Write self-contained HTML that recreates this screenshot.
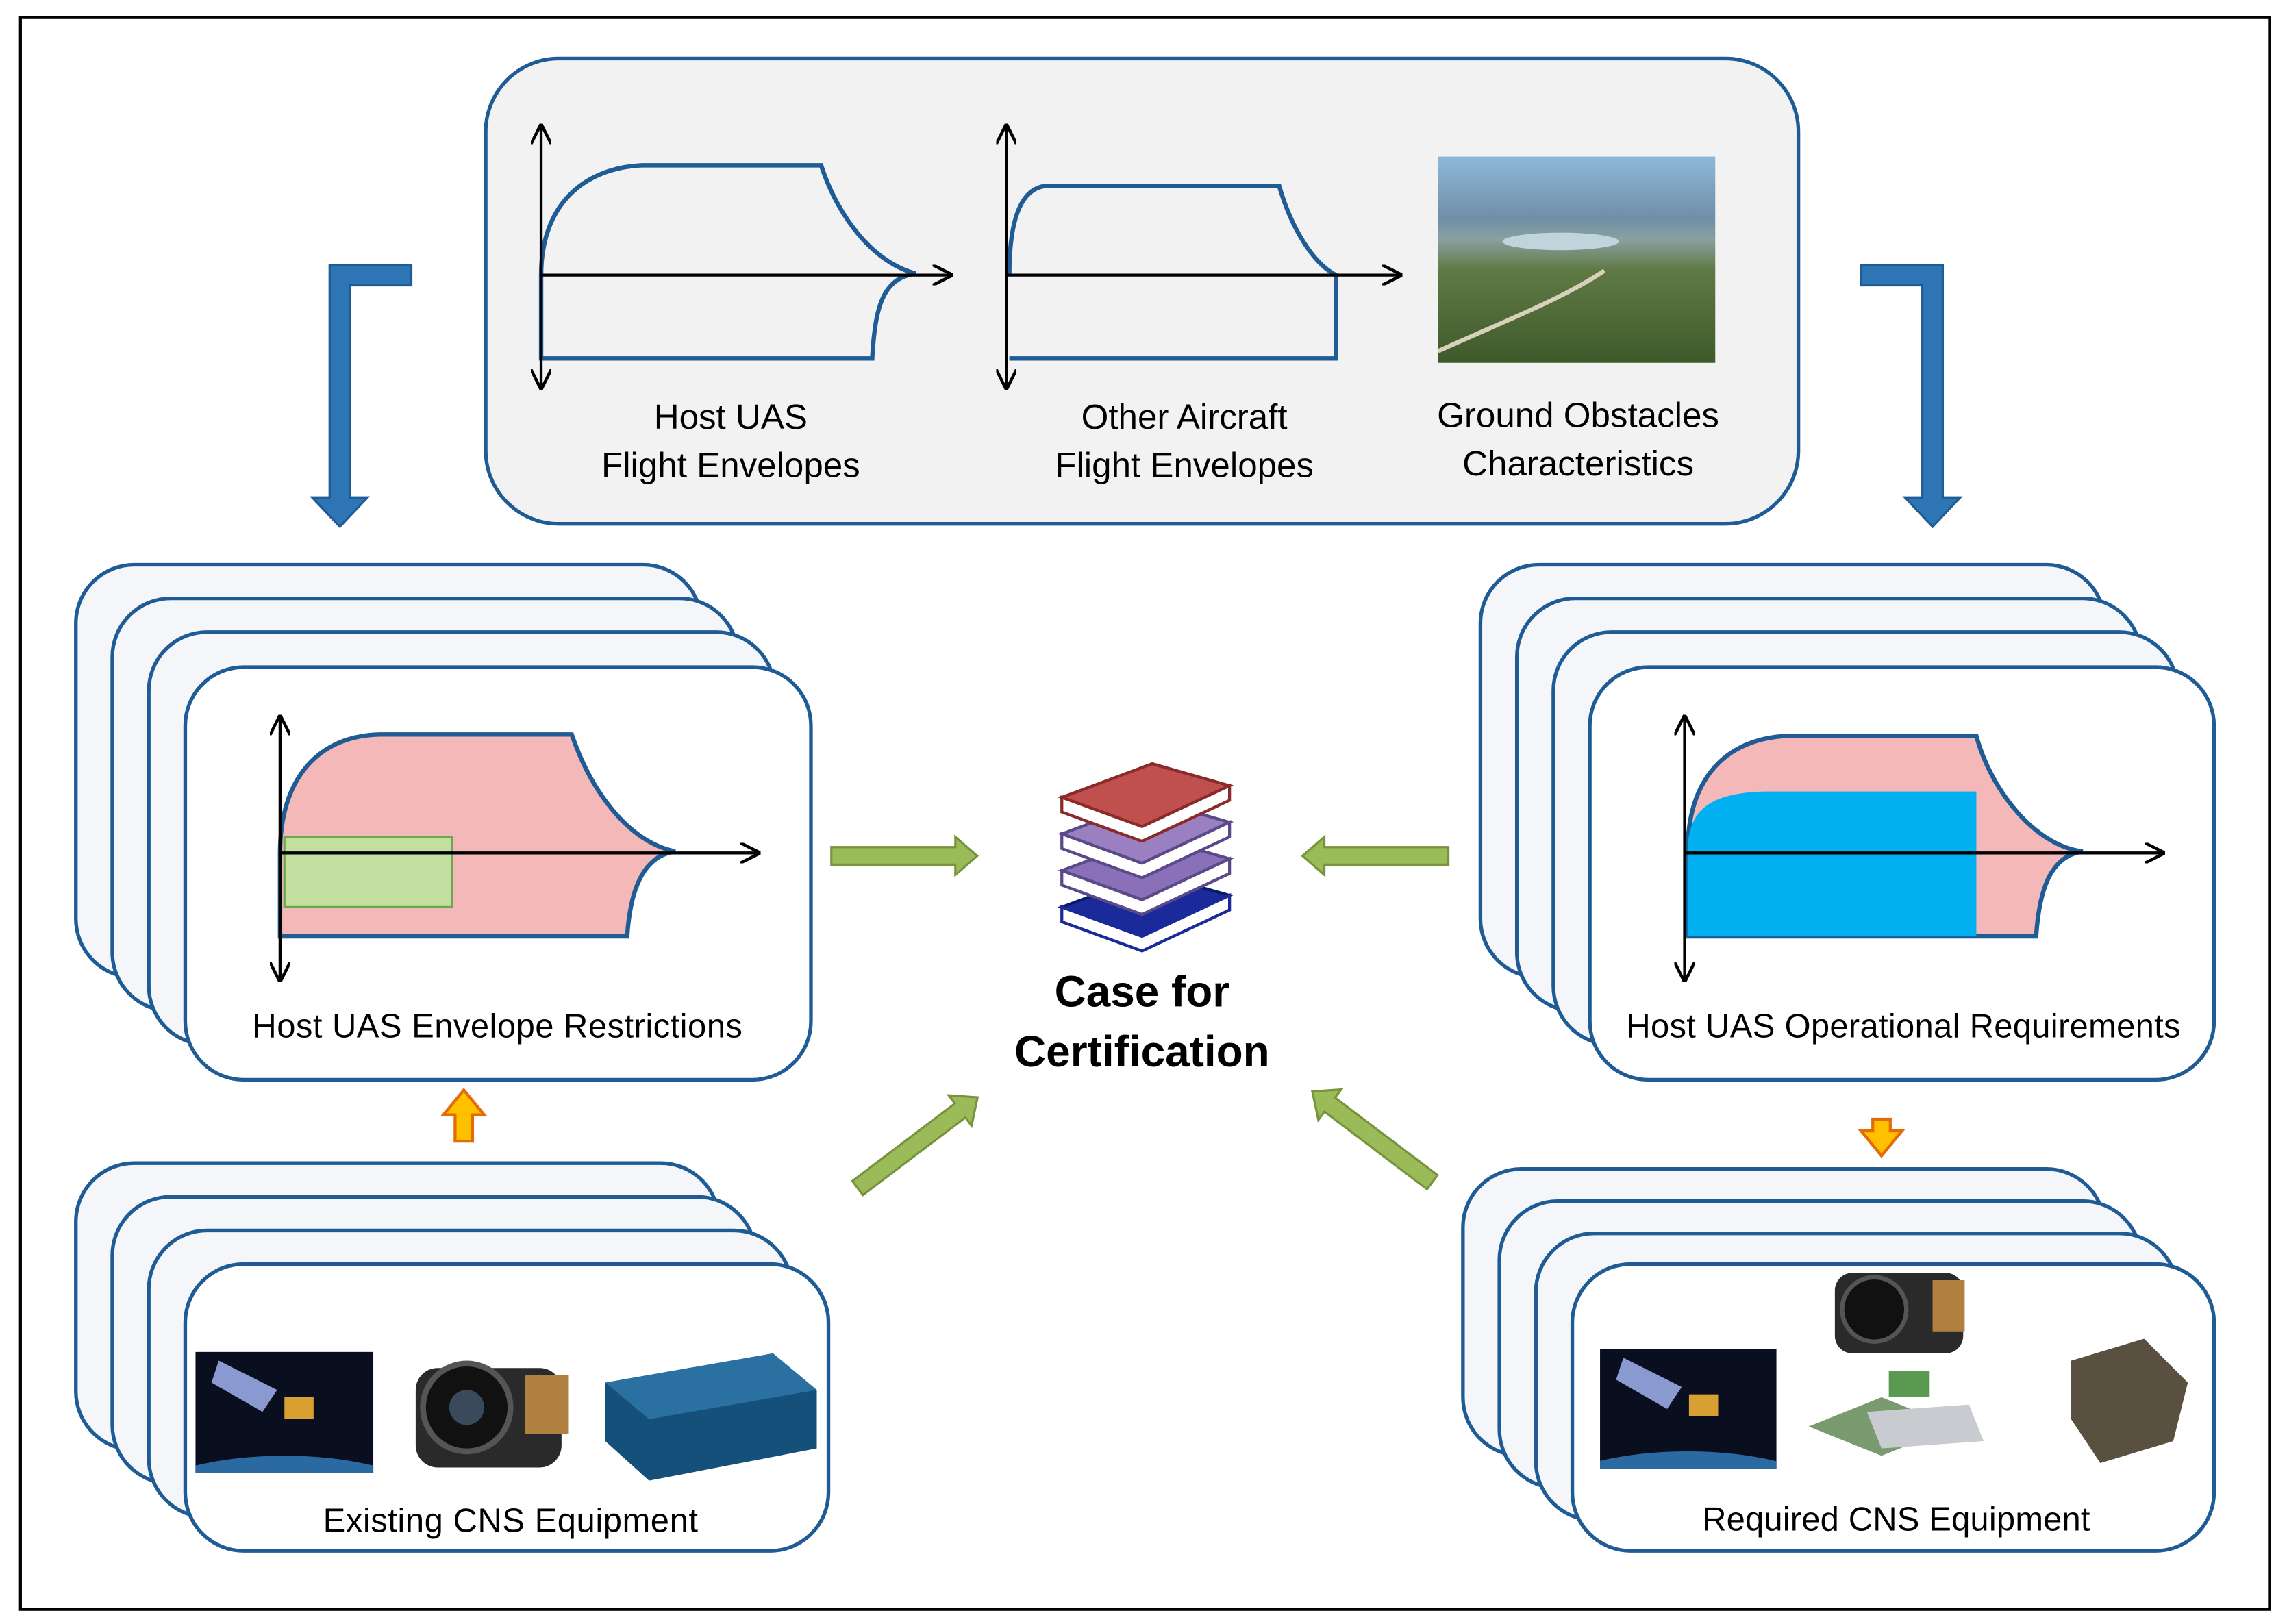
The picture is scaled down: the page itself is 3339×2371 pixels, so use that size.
<!DOCTYPE html>
<html><head><meta charset="utf-8"><style>
html,body{margin:0;padding:0;background:#fff}
svg{display:block}
text{font-family:"Liberation Sans",sans-serif;fill:#000}
</style></head><body>
<svg width="3339" height="2371" viewBox="0 0 1568 1110" preserveAspectRatio="none" xmlns="http://www.w3.org/2000/svg">
<defs>
<marker id="ah" viewBox="0 0 10 10" refX="9" refY="5" markerWidth="7" markerHeight="7" orient="auto-start-reverse"><path d="M0,0 L10,5 L0,10" fill="none" stroke="#000" stroke-width="1.5"/></marker>
<linearGradient id="sky" x1="0" y1="0" x2="0" y2="1"><stop offset="0" stop-color="#8fb8d8"/><stop offset="0.3" stop-color="#6f8fa8"/><stop offset="0.4" stop-color="#8aa0a0"/><stop offset="0.55" stop-color="#5f7a45"/><stop offset="1" stop-color="#3f5a2a"/></linearGradient>
<clipPath id="c1"><rect x="134" y="924" width="122" height="83"/></clipPath>
<clipPath id="c2"><rect x="1097" y="922" width="121" height="82"/></clipPath>
</defs>
<rect x="0" y="0" width="1568" height="1110" fill="#fff"/>
<rect x="14" y="12" width="1542" height="1088" fill="none" stroke="#000" stroke-width="2"/>

<rect x="333" y="40" width="900" height="318" rx="50" fill="#f2f2f2" stroke="#1f5b95" stroke-width="2.5"/>
<path d="M371,188 C371,140 400,115 440,113 L563,113 C575,150 600,180 628,187 C605,190 600,210 598,245 L371,245 Z" fill="none" stroke="#1f5b95" stroke-width="3"/>
<line x1="371" y1="86" x2="371" y2="265" stroke="#000" stroke-width="2" marker-start="url(#ah)" marker-end="url(#ah)"/>
<line x1="371" y1="188" x2="652" y2="188" stroke="#000" stroke-width="2" marker-end="url(#ah)"/>
<path d="M692,188 C692,150 700,128 718,127 L877,127 C885,155 900,180 916,188 L916,245 L692,245" fill="none" stroke="#1f5b95" stroke-width="3"/>
<line x1="690" y1="86" x2="690" y2="265" stroke="#000" stroke-width="2" marker-start="url(#ah)" marker-end="url(#ah)"/>
<line x1="690" y1="188" x2="960" y2="188" stroke="#000" stroke-width="2" marker-end="url(#ah)"/>
<rect x="986" y="107" width="190" height="141" fill="url(#sky)"/>
<ellipse cx="1070" cy="165" rx="40" ry="6" fill="#c0d4dc"/>
<path d="M986,240 C1030,220 1070,205 1100,185" stroke="#d8d0b8" stroke-width="3" fill="none"/>
<g font-size="24" text-anchor="middle">
<text x="501" y="293">Host UAS</text>
<text x="501" y="326">Flight Envelopes</text>
<text x="812" y="293">Other Aircraft</text>
<text x="812" y="326">Flight Envelopes</text>
<text x="1082" y="292">Ground Obstacles</text>
<text x="1082" y="325">Characteristics</text>
</g>

<path d="M282,181 L226,181 L226,340 L214,340 L233,360 L252,340 L240,340 L240,195 L282,195 Z" fill="#2e75b6" stroke="#1f5b95" stroke-width="1.5"/>
<path d="M1276,181 L1332,181 L1332,340 L1344,340 L1325,360 L1306,340 L1318,340 L1318,195 L1276,195 Z" fill="#2e75b6" stroke="#1f5b95" stroke-width="1.5"/>

<g fill="#f4f6f9" stroke="#1f5b95" stroke-width="2.5">
<rect x="52" y="386" width="429" height="282" rx="40"/>
<rect x="77" y="409" width="429" height="282" rx="40"/>
<rect x="102" y="432" width="429" height="282" rx="40"/>
<rect x="127" y="456" width="429" height="282" rx="40" fill="#fff"/>
</g>
<path d="M192,583 C192,530 220,503 260,502 L392,502 C405,540 430,575 463,582 C440,585 432,610 430,640 L192,640 Z" fill="#f4b8b8" stroke="#1f5b95" stroke-width="3"/>
<rect x="195" y="572" width="115" height="48" fill="#c3df9f" stroke="#6aa84f" stroke-width="1.5"/>
<line x1="192" y1="490" x2="192" y2="670" stroke="#000" stroke-width="2" marker-start="url(#ah)" marker-end="url(#ah)"/>
<line x1="192" y1="583" x2="520" y2="583" stroke="#000" stroke-width="2" marker-end="url(#ah)"/>
<text x="341" y="709" font-size="23" text-anchor="middle" textLength="336">Host UAS Envelope Restrictions</text>

<g fill="#f4f6f9" stroke="#1f5b95" stroke-width="2.5">
<rect x="1015" y="386" width="428" height="282" rx="40"/>
<rect x="1040" y="409" width="428" height="282" rx="40"/>
<rect x="1065" y="432" width="428" height="282" rx="40"/>
<rect x="1090" y="456" width="428" height="282" rx="40" fill="#fff"/>
</g>
<path d="M1157,583 C1157,530 1185,505 1225,503 L1355,503 C1365,540 1395,578 1428,582 C1405,585 1398,610 1396,640 L1157,640 Z" fill="#f4b8b8" stroke="#1f5b95" stroke-width="3"/>
<path d="M1157,583 C1157,555 1170,542 1210,541 L1355,541 L1355,640 L1157,640 Z" fill="#00b0f0"/>
<line x1="1155" y1="490" x2="1155" y2="670" stroke="#000" stroke-width="2" marker-start="url(#ah)" marker-end="url(#ah)"/>
<line x1="1155" y1="583" x2="1483" y2="583" stroke="#000" stroke-width="2" marker-end="url(#ah)"/>
<text x="1305" y="709" font-size="23" text-anchor="middle" textLength="380">Host UAS Operational Requirements</text>

<g fill="#f4f6f9" stroke="#1f5b95" stroke-width="2.5">
<rect x="52" y="795" width="441" height="196" rx="40"/>
<rect x="77" y="818" width="441" height="196" rx="40"/>
<rect x="102" y="841" width="441" height="196" rx="40"/>
<rect x="127" y="864" width="441" height="196" rx="40" fill="#fff"/>
</g>
<g clip-path="url(#c1)">
<rect x="134" y="924" width="122" height="83" fill="#0a0f20"/>
<ellipse cx="195" cy="1035" rx="110" ry="40" fill="#2a6aa0"/>
<polygon points="150,930 190,950 180,965 145,945" fill="#8a9ad0"/>
<rect x="195" y="955" width="20" height="15" fill="#d8a030"/>
</g>
<rect x="285" y="935" width="100" height="68" rx="15" fill="#2a2a2a"/>
<circle cx="320" cy="962" r="30" fill="#111" stroke="#555" stroke-width="4"/>
<circle cx="320" cy="962" r="12" fill="#3a4a5a"/>
<rect x="360" y="940" width="30" height="40" fill="#b08040"/>
<polygon points="415,945 530,925 560,950 560,990 445,1012 415,985" fill="#15507a"/>
<polygon points="415,945 530,925 560,950 445,970" fill="#2a70a0"/>
<text x="350" y="1047" font-size="23" text-anchor="middle" textLength="257">Existing CNS Equipment</text>

<g fill="#f4f6f9" stroke="#1f5b95" stroke-width="2.5">
<rect x="1003" y="799" width="440" height="196" rx="40"/>
<rect x="1028" y="821" width="440" height="196" rx="40"/>
<rect x="1053" y="843" width="440" height="196" rx="40"/>
<rect x="1078" y="864" width="440" height="196" rx="40" fill="#fff"/>
</g>
<g clip-path="url(#c2)">
<rect x="1097" y="922" width="121" height="82" fill="#0a0f20"/>
<ellipse cx="1157" cy="1032" rx="110" ry="40" fill="#2a6aa0"/>
<polygon points="1113,928 1153,948 1143,963 1108,943" fill="#8a9ad0"/>
<rect x="1158" y="953" width="20" height="15" fill="#d8a030"/>
</g>
<rect x="1258" y="870" width="88" height="55" rx="12" fill="#2a2a2a"/>
<circle cx="1285" cy="895" r="22" fill="#111" stroke="#555" stroke-width="3"/>
<rect x="1325" y="875" width="22" height="35" fill="#b08040"/>
<polygon points="1240,975 1290,955 1340,975 1290,995" fill="#7a9a70"/>
<polygon points="1280,965 1350,960 1360,985 1290,990" fill="#c8ccd0"/>
<rect x="1295" y="937" width="28" height="18" fill="#5a9a50"/>
<polygon points="1420,930 1470,915 1500,945 1490,985 1440,1000 1420,970" fill="#5a5040"/>
<text x="1300" y="1046" font-size="23" text-anchor="middle" textLength="266">Required CNS Equipment</text>

<polygon points="318,745 304,762 312,762 312,780 324,780 324,762 332,762" fill="#ffc000" stroke="#e36c09" stroke-width="2"/>
<polygon points="1290,790 1276,773 1284,773 1284,765 1296,765 1296,773 1304,773" fill="#ffc000" stroke="#e36c09" stroke-width="2"/>

<g fill="#9bbb59" stroke="#77933c" stroke-width="1.5">
<polygon points="570,579 655,579 655,572 670,585 655,598 655,591 570,591"/>
<polygon points="993,579 908,579 908,572 893,585 908,598 908,591 993,591"/>
<g transform="translate(588,812) rotate(-37)"><polygon points="0,-6 88,-6 88,-13 103,0 88,13 88,6 0,6"/></g>
<g transform="translate(982,808) rotate(-143)"><polygon points="0,-6 88,-6 88,-13 103,0 88,13 88,6 0,6"/></g>
</g>

<g stroke-width="2">
<polygon points="728,620 790,597 843,612 783,640" fill="#1a2a9a" stroke="#0a1a6a"/>
<path d="M728,620 L783,640 L843,612 L843,622 L783,650 L728,630 Z" fill="#fff" stroke="#1a2a9a"/>
<polygon points="728,595 790,572 843,587 783,615" fill="#8a70b8" stroke="#5a4a8a"/>
<path d="M728,595 L783,615 L843,587 L843,597 L783,625 L728,605 Z" fill="#fff" stroke="#5a4a8a"/>
<polygon points="728,570 790,547 843,562 783,590" fill="#9a80c0" stroke="#5a4a8a"/>
<path d="M728,570 L783,590 L843,562 L843,572 L783,600 L728,580 Z" fill="#fff" stroke="#5a4a8a"/>
<polygon points="728,545 790,522 843,537 783,565" fill="#c0504d" stroke="#8a2a2a"/>
<path d="M728,545 L783,565 L843,537 L843,547 L783,575 L728,555 Z" fill="#fff" stroke="#8a2a2a"/>
</g>
<text x="783" y="688" font-size="30" font-weight="bold" text-anchor="middle">Case for</text>
<text x="783" y="729" font-size="30" font-weight="bold" text-anchor="middle">Certification</text>
</svg>
</body></html>
